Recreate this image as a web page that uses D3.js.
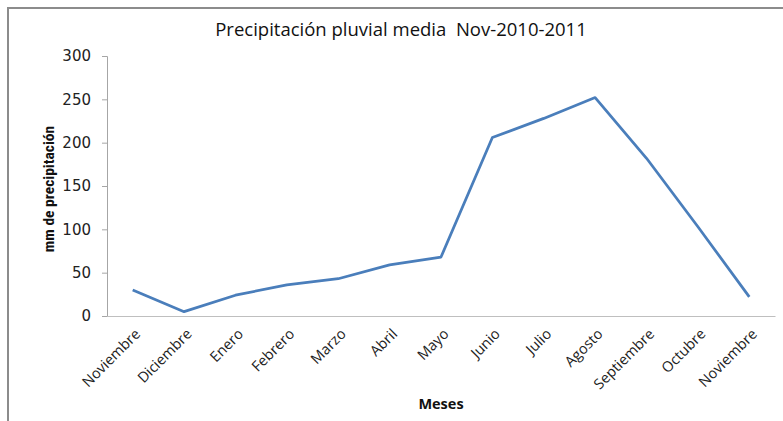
<!DOCTYPE html>
<html>
<head>
<meta charset="utf-8">
<script src="https://cdn.jsdelivr.net/npm/d3@7"></script>
<style>
  body { margin: 0; background: #fff; }
  text { font-family: "Open Sans", "Noto Sans", sans-serif; }
</style>
</head>
<body>
<script>
// Datos de precipitacion (mm)
var meses = ["Noviembre", "Diciembre", "Enero", "Febrero", "Marzo", "Abril", "Mayo",
             "Junio", "Julio", "Agosto", "Septiembre", "Octubre", "Noviembre"];
var precipitacion = [30, 5, 24, 36, 43, 59, 68, 206, 228, 252, 182, 103, 22];
var yTicks = [0, 50, 100, 150, 200, 250, 300];

var width = 783, height = 421;
var margin = {top: 56, right: 8, bottom: 105, left: 107};

var svg = d3.select("body").append("svg")
    .attr("width", width)
    .attr("height", height);

// marco
svg.append("path")
    .attr("d", "M8,421 L8,8 L783,8")
    .attr("fill", "none")
    .attr("stroke", "#8c8c8c")
    .attr("stroke-width", 2);

var x = d3.scaleBand()
    .domain(d3.range(meses.length))
    .range([margin.left, width - margin.right]);

var y = d3.scaleLinear()
    .domain([0, 300])
    .range([height - margin.bottom, margin.top]);

// eje y
var yAxis = svg.append("g")
    .attr("transform", "translate(" + margin.left + ",0)")
    .call(d3.axisLeft(y).tickValues(yTicks).tickSize(5).tickPadding(11));
yAxis.select(".domain").attr("stroke", "#a6a6a6");
yAxis.selectAll(".tick line").attr("stroke", "#a6a6a6");
yAxis.selectAll("text")
    .style("font-family", "'DejaVu Sans', sans-serif")
    .style("font-size", "15px")
    .attr("fill", "#222");

// eje x
var xAxis = svg.append("g")
    .attr("transform", "translate(0," + (height - margin.bottom) + ")")
    .call(d3.axisBottom(x).tickSize(0).tickPadding(10).tickFormat(function(i) { return meses[i]; }));
xAxis.select(".domain").attr("stroke", "#bfbfbf");
xAxis.selectAll("text")
    .style("font-size", "14.5px")
    .attr("fill", "#222")
    .attr("text-anchor", "end")
    .attr("dx", "-0.5em")
    .attr("dy", "0.65em")
    .attr("transform", "rotate(-45)");

// linea
var line = d3.line()
    .x(function(d, i) { return x(i) + x.bandwidth() / 2; })
    .y(function(d) { return y(d); });

svg.append("path")
    .datum(precipitacion)
    .attr("d", line)
    .attr("fill", "none")
    .attr("stroke", "#4a7ebb")
    .attr("stroke-width", 2.75)
    .attr("stroke-linejoin", "round");

// titulos
svg.append("text")
    .attr("x", 401)
    .attr("y", 36)
    .attr("text-anchor", "middle")
    .style("font-size", "18.5px")
    .style("white-space", "pre")
    .attr("fill", "#111")
    .text("Precipitación pluvial media  Nov-2010-2011");

svg.append("text")
    .attr("transform", "translate(54,189) rotate(-90)")
    .attr("text-anchor", "middle")
    .style("font-family", "'Liberation Sans Narrow', 'Roboto Condensed', 'Liberation Sans', sans-serif")
    .style("font-size", "15.5px")
    .style("font-weight", "bold")
    .style("font-stretch", "condensed")
    .attr("fill", "#111")
    .text("mm de precipitación");

svg.append("text")
    .attr("x", 441)
    .attr("y", 409)
    .attr("text-anchor", "middle")
    .style("font-size", "14.5px")
    .style("font-weight", "bold")
    .attr("fill", "#111")
    .text("Meses");
</script>
</body>
</html>
